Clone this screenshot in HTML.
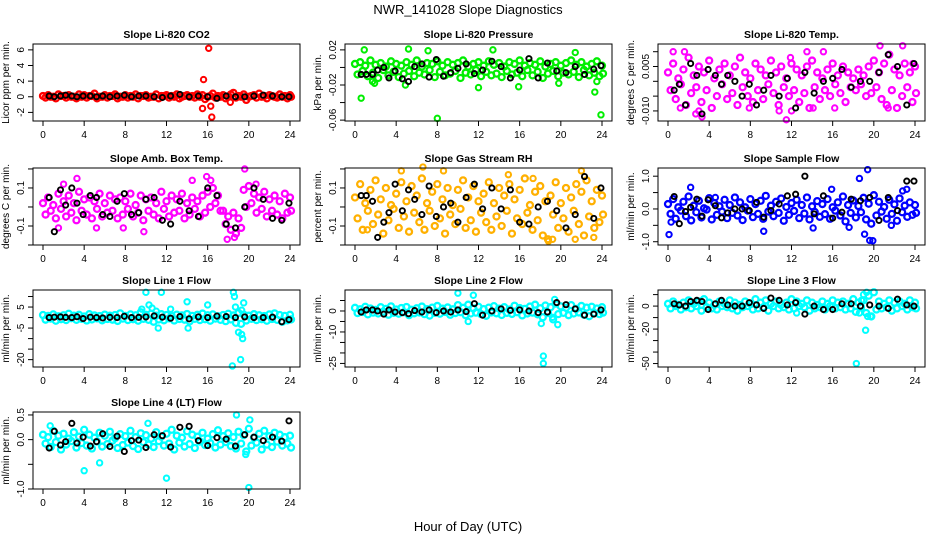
<!DOCTYPE html>
<html><head><meta charset="utf-8"><title>NWR_141028 Slope Diagnostics</title>
<style>
html,body{margin:0;padding:0;background:#fff;}
svg{display:block;font-family:"Liberation Sans",Arial,sans-serif;}
</style></head>
<body>
<svg id="chart" width="936" height="540" viewBox="0 0 936 540" xmlns="http://www.w3.org/2000/svg">
<rect x="0" y="0" width="936" height="540" fill="#fff"/>
<text x="468" y="14" text-anchor="middle" font-size="13">NWR_141028  Slope Diagnostics</text>
<text x="468" y="531" text-anchor="middle" font-size="13">Hour of Day (UTC)</text>
</svg>
<script>
const hours = [0,0.5,1,1.5,2,2.5,3,3.5,4,4.5,5,5.5,6,6.5,7,7.5,8,8.5,9,9.5,10,10.5,11,11.5,12,12.5,13,13.5,14,14.5,15,15.5,16,16.5,17,17.5,18,18.5,19,19.5,20,20.5,21,21.5,22,22.5,23,23.5,24];
const hoursB = [0.25,0.75,1.25,1.75,2.25,2.75,3.25,3.75,4.25,4.75,5.25,5.75,6.25,6.75,7.25,7.75,8.25,8.75,9.25,9.75,10.25,10.75,11.25,11.75,12.25,12.75,13.25,13.75,14.25,14.75,15.25,15.75,16.25,16.75,17.25,17.75,18.25,18.75,19.25,19.75,20.25,20.75,21.25,21.75,22.25,22.75,23.25,23.75,24.1];
const hoursBlack = [0.6,1.1,1.7,2.2,2.8,3.3,3.9,4.6,5.2,5.8,6.5,7.2,7.9,8.6,9.3,10.0,10.8,11.6,12.4,13.3,14.2,15.1,16.0,16.9,17.8,18.7,19.6,20.5,21.4,22.3,23.2,23.9];
const xTicks = [0,4,8,12,16,20,24];

const co2A = [0.1,0.2,0.0,0.3,0.1,0.2,0.0,0.3,0.2,0.1,0.4,0.0,0.2,0.1,0.3,0.0,0.2,0.1,0.3,0.1,0.2,0.0,0.3,0.1,0.2,0.1,0.3,0.0,0.2,0.1,0.3,0.2,0.0,0.4,0.1,0.2,0.0,0.5,0.1,0.3,0.0,0.2,0.4,0.1,0.2,0.0,0.3,0.1,0.2];
const co2B = [-0.1,0.0,-0.2,0.1,-0.1,0.0,-0.2,0.0,-0.1,0.1,-0.2,0.0,-0.1,0.1,-0.2,0.0,-0.1,0.0,-0.2,0.1,-0.1,0.0,-0.2,0.1,-0.1,0.0,-0.2,0.1,0.0,-0.1,0.0,-0.3,0.1,-0.1,0.0,-0.2,0.3,-0.1,0.0,-0.4,0.1,-0.1,0.0,-0.2,0.1,-0.1,0.0,-0.2,0.0];
const co2K = [0.1,0.0,0.1,0.2,0.1,0.0,0.1,0.1,0.0,0.1,0.0,0.1,0.2,0.0,0.1,0.1,0.0,-0.1,0.1,0.3,0.0,0.1,0.0,-0.2,0.1,0.0,0.0,0.1,0.2,0.1,0.0,0.0];
const co2OutH = [15.5,15.6,16.1,16.3,16.4,18.2];
const co2OutV = [-1.5,2.2,6.2,-1.2,-2.6,-0.7];

const presA = [0.004,0.006,0.002,0.008,0.003,0.005,0.001,0.007,0.004,0.002,0.006,0.003,0.008,0.001,0.005,0.004,0.007,0.002,0.006,0.003,0.005,0.008,0.001,0.004,0.006,0.002,0.007,0.003,0.005,0.001,0.006,0.004,0.008,0.002,0.005,0.003,0.007,0.001,0.004,0.006,0.002,0.005,0.008,0.003,0.006,0.001,0.004,0.007,0.002];
const presB = [-0.008,-0.004,-0.010,-0.006,-0.012,-0.003,-0.009,-0.005,-0.011,-0.007,-0.004,-0.010,-0.006,-0.008,-0.003,-0.011,-0.005,-0.009,-0.007,-0.004,-0.012,-0.006,-0.008,-0.003,-0.010,-0.005,-0.009,-0.007,-0.011,-0.004,-0.008,-0.006,-0.010,-0.003,-0.009,-0.005,-0.012,-0.007,-0.004,-0.010,-0.006,-0.008,-0.005,-0.011,-0.003,-0.009,-0.006,-0.010,-0.007];
const presK = [-0.008,-0.008,-0.008,-0.003,0.000,-0.012,-0.004,-0.013,-0.016,0.001,0.004,-0.011,0.009,-0.010,-0.006,-0.001,0.004,-0.007,-0.003,0.007,0.001,-0.012,-0.003,0.010,-0.012,0.005,-0.004,-0.006,0.001,-0.008,-0.002,0.002];
const presOutH = [0.6,8.0,23.9,23.3,12.0,15.9,1.7,1.9,19.8,5.2,13.4,0.9,7.1,21.4,4.9,23.5];
const presOutV = [-0.035,-0.058,-0.054,-0.028,-0.023,-0.022,-0.016,-0.018,-0.018,0.021,0.020,0.020,0.019,0.017,-0.020,-0.016];

const tempA = [0.003,0.006,0.001,0.004,0.008,0.002,0.005,0.003,0.007,0.001,0.004,0.006,0.002,0.005,0.008,0.003,0.001,0.006,0.004,0.002,0.007,0.003,0.005,0.001,0.006,0.004,0.002,0.005,0.007,0.003,0.001,0.004,0.006,0.002,0.005,0.003,0.001,0.004,0.002,0.005,0.007,0.003,0.006,0.009,0.004,0.002,0.006,0.003,0.005];
const tempB = [-0.003,-0.006,-0.001,-0.008,-0.004,-0.002,-0.007,-0.003,-0.009,-0.005,-0.001,-0.006,-0.004,-0.008,-0.002,-0.005,-0.007,-0.003,-0.006,-0.001,-0.004,-0.008,-0.002,-0.005,-0.003,-0.007,-0.004,-0.009,-0.002,-0.006,-0.003,-0.005,-0.001,-0.004,-0.007,-0.002,-0.003,-0.001,-0.005,-0.004,-0.002,-0.006,-0.008,-0.003,-0.009,-0.005,-0.002,-0.007,-0.004];
const tempK = [-0.003,-0.001,-0.008,0.006,0.002,-0.011,0.004,0.002,-0.001,0.002,0.000,-0.005,-0.001,-0.008,-0.003,0.002,-0.005,0.001,-0.009,0.003,-0.004,0.000,0.001,0.004,-0.002,0.000,0.000,0.003,0.009,0.005,-0.008,0.006];
const tempOutH = [0.5,1.6,1.2,3.0,3.3,7.9,10.8,11.5,12.0,13.5,14.1,15.1,16.2,20.6,21.4,22.8,23.8,11.9,2.7];
const tempOutV = [0.010,0.010,-0.009,-0.010,-0.012,-0.009,-0.010,-0.013,-0.010,0.010,-0.009,0.010,-0.009,0.012,-0.009,0.012,0.006,0.008,-0.011];

const ambA = [0.02,0.05,0.01,0.07,0.03,0.06,0.02,0.08,0.04,0.05,0.03,0.07,0.02,0.06,0.04,0.05,0.03,0.07,0.01,0.06,0.04,0.05,0.02,0.08,0.03,0.06,0.04,0.07,0.02,0.05,0.03,0.06,0.08,0.10,0.06,-0.02,-0.05,-0.03,-0.06,0.09,0.11,0.07,0.05,0.08,0.04,0.06,0.03,0.07,0.05];
const ambB = [-0.04,-0.02,-0.06,-0.01,-0.05,-0.03,-0.07,-0.02,-0.04,-0.06,-0.01,-0.05,-0.03,-0.02,-0.06,-0.04,-0.01,-0.05,-0.03,-0.07,-0.02,-0.04,-0.06,-0.01,-0.05,-0.03,-0.02,-0.06,-0.04,-0.01,-0.05,-0.03,0.00,0.02,-0.02,-0.09,-0.12,-0.14,-0.11,0.00,0.02,-0.03,-0.01,-0.05,-0.02,-0.04,-0.06,-0.03,-0.02];
const ambK = [0.05,-0.13,0.09,0.01,0.10,0.02,-0.04,0.06,0.05,-0.04,-0.05,0.03,0.07,-0.04,-0.03,0.04,0.05,-0.07,-0.09,0.03,-0.02,-0.05,0.10,0.06,-0.09,-0.11,0.00,0.10,0.04,-0.06,-0.07,0.02];
const ambOutH = [2,3.3,5.2,7.8,9.8,15.9,16.3,17.9,18.6,19.6,20.7,14.5,1.5];
const ambOutV = [0.12,0.15,-0.11,-0.11,-0.13,0.16,0.14,-0.17,-0.16,0.2,0.12,0.14,-0.11];

const rhA = [0.05,0.12,0.02,0.09,0.14,0.04,0.10,0.01,0.07,0.13,0.03,0.11,0.06,0.15,0.02,0.08,0.12,0.04,0.10,0.01,0.09,0.14,0.05,0.11,0.03,0.07,0.13,0.02,0.10,0.06,0.12,0.04,0.09,0.15,0.01,0.08,0.11,0.03,0.06,0.13,0.02,0.10,0.05,0.12,0.08,0.14,0.03,0.09,0.06];
const rhB = [-0.06,-0.12,-0.02,-0.09,-0.04,-0.14,-0.07,-0.01,-0.11,-0.05,-0.13,-0.03,-0.08,-0.12,-0.02,-0.10,-0.06,-0.14,-0.04,-0.09,-0.01,-0.11,-0.07,-0.13,-0.03,-0.08,-0.12,-0.05,-0.10,-0.02,-0.14,-0.06,-0.09,-0.03,-0.12,-0.07,-0.15,-0.17,-0.04,-0.11,-0.06,-0.13,-0.02,-0.09,-0.15,-0.05,-0.11,-0.08,-0.04];
const rhK = [0.06,0.06,0.03,-0.16,-0.08,-0.03,0.12,-0.02,0.09,0.04,-0.04,0.11,-0.05,0.00,0.02,-0.08,0.05,0.12,-0.01,0.10,-0.01,0.09,-0.08,-0.09,0.00,0.03,-0.02,-0.11,-0.04,0.16,-0.06,0.10];
const rhOutH = [4.5,6.6,8.6,14.9,17.3,18.8,19.2,21.4,22.0,23.2,1.2];
const rhOutV = [0.19,0.21,0.19,0.17,0.15,-0.18,-0.17,-0.17,0.19,-0.16,-0.12];

const sampA = [0.15,0.30,0.05,0.22,0.38,0.10,0.25,0.02,0.33,0.18,0.08,0.28,0.12,0.35,0.20,0.05,0.30,0.15,0.25,0.40,0.10,0.22,0.32,0.06,0.18,0.28,0.12,0.35,0.08,0.24,0.15,0.30,0.05,0.20,0.38,0.12,0.26,0.09,0.34,0.16,0.42,0.22,0.06,0.28,0.14,0.32,0.10,0.20,0.12];
const sampB = [-0.15,-0.30,-0.05,-0.22,-0.35,-0.10,-0.26,-0.02,-0.32,-0.18,-0.08,-0.28,-0.12,-0.20,-0.34,-0.05,-0.25,-0.15,-0.30,-0.08,-0.22,-0.12,-0.36,-0.18,-0.06,-0.28,-0.14,-0.32,-0.09,-0.24,-0.16,-0.30,-0.05,-0.20,-0.38,-0.12,-0.26,-0.10,-0.32,-0.45,-0.20,-0.08,-0.30,-0.15,-0.36,-0.10,-0.24,-0.18,-0.12];
const sampK = [0.38,-0.45,-0.08,0.05,0.30,-0.22,0.28,0.10,-0.27,-0.12,0.00,0.00,-0.05,0.20,-0.25,-0.05,0.15,0.40,0.45,1.0,-0.15,0.40,-0.28,-0.10,0.30,0.25,0.35,-0.35,0.35,-0.05,0.85,0.85];
const sampOutH = [0.1,2.2,4.6,9.3,14.1,15.9,18.6,19.1,19.4,19.6,19.9,22.8,23.2,0.3,17.6,21.7];
const sampOutV = [-0.78,0.66,0.35,-0.68,-0.58,0.6,0.93,-0.77,1.2,-0.96,-0.97,0.55,0.6,-0.4,-0.56,-0.5];

const l1A = [1.2,0.8,1.5,0.6,1.1,1.8,0.9,1.3,0.5,1.6,1.0,0.7,1.4,0.9,1.2,2.0,0.8,1.5,1.1,2.5,1.3,1.8,0.9,1.6,1.2,0.7,1.4,1.0,1.7,0.8,1.3,1.9,1.1,1.5,0.6,1.2,1.8,1.0,2.2,1.4,0.9,1.6,1.1,0.7,1.5,2.0,1.2,0.8,1.3];
const l1B = [-1.0,-0.5,-1.5,-0.8,-1.2,-0.3,-1.1,-0.6,-1.4,-0.9,-0.4,-1.3,-0.7,-1.0,-1.6,-0.5,-1.2,-0.8,-1.5,-0.6,-1.1,-2.0,-0.9,-1.3,-0.4,-1.4,-0.7,-1.0,-1.8,-0.6,-1.2,-0.8,-1.5,-0.5,-1.1,-1.7,-0.9,-2.5,-3.0,-1.4,-0.6,-1.2,-0.8,-1.5,-0.7,-1.1,-2.0,-1.3,-0.9];
const l1K = [0.0,0.2,0.3,0.1,0.0,0.4,-0.5,0.2,0.0,-0.2,0.1,0.0,0.6,0.0,0.1,0.3,0.8,0.2,-0.3,0.5,-0.6,0.3,0.0,0.7,0.5,0.0,0.3,0.0,0.0,0.2,-2.0,-1.0];
const l1OutH = [10.0,10.3,10.6,11.0,11.5,12.4,14.0,16.0,18.5,18.6,18.7,18.4,19.0,19.2,19.3,19.4,19.5,19.3,11.2,9.6,14.1];
const l1OutV = [12,6,4.5,3,12,4,7.5,6,12,10,5,-23,-7,-20,-8,-10,7,3.5,-5,4,-5];

const l2A = [1.5,0.8,2.0,1.2,0.5,1.8,1.0,2.2,0.7,1.4,1.9,0.6,1.3,2.1,0.9,1.6,2.4,1.1,1.7,0.8,2.8,1.5,3.0,1.2,2.0,0.9,1.6,2.3,1.1,1.8,0.7,2.5,1.4,1.0,2.1,3.0,1.3,2.6,1.8,3.5,2.2,1.5,2.8,1.0,2.4,1.6,2.0,1.2,1.8];
const l2B = [-1.0,-0.5,-1.6,-0.8,-1.2,-0.3,-1.8,-0.9,-1.3,-0.6,-2.0,-1.1,-0.7,-1.5,-2.2,-0.9,-1.3,-0.5,-1.8,-1.0,-0.6,-2.0,-1.2,-0.8,-1.5,-2.3,-0.7,-1.1,-1.9,-0.9,-1.4,-0.6,-2.1,-1.2,-0.8,-1.6,-3.0,-1.0,-4.0,-1.5,-0.9,-2.0,-1.2,-0.7,-1.8,-2.5,-1.0,-1.5,-0.8];
const l2K = [-0.5,0.5,0.5,0.0,-1.5,0.5,-0.5,-0.8,-1.3,0.2,-0.5,0.5,-0.8,0.0,-0.5,0.5,-0.3,3.5,-2.0,0.0,1.0,0.3,0.5,0.0,-0.8,-0.5,4.0,3.0,1.0,-2.0,-1.5,0.5];
const l2OutH = [18.3,18.3,10.0,11.5,11.0,19.4,19.7,18.1,19.2];
const l2OutV = [-25,-21.5,8.5,7.5,-5,5.5,-6.5,-6,-3];

const l3A = [2,4,1,3,5,2,4,6,3,1,4,2,5,3,1,4,2,6,3,5,2,4,1,3,6,4,2,5,3,1,4,2,5,3,4,2,6,3,5,9,12,4,2,5,3,4,2,5,3];
const l3B = [-2,0,-3,-1,-2,0,-4,-1,-2,-3,0,-1,-2,-4,-1,0,-3,-2,-1,-4,0,-2,-1,-3,-2,0,-1,-4,-2,-1,-3,0,-2,-1,-3,-2,-5,-1,-6,-9,-3,-2,-1,-4,-2,0,-3,-1,-2];
const l3K = [2,1,0,4,5,4,-3,2,5,1,0,0,3,1,-2,7,5,1,3,-7,0,-3,-3,2,2,0,1,0,-2,6,1,0];
const l3OutH = [18.3,19.2,19.0,19.3,18.6,19.4,19.7,18.8,12.5];
const l3OutV = [-50,-21,10,12,-6,-9,-9,5,-6];

const l4A = [0.10,0.05,0.18,0.08,0.12,0.02,0.15,0.06,0.20,0.10,0.04,0.14,0.08,0.16,0.03,0.11,0.07,0.18,0.05,0.13,0.09,0.02,0.15,0.06,0.12,0.20,0.08,0.04,0.17,0.10,0.06,0.14,0.02,0.11,0.19,0.07,0.13,0.05,0.16,0.09,0.22,0.04,0.12,0.18,0.07,0.14,0.10,0.05,0.08];
const l4B = [-0.08,-0.15,-0.05,-0.20,-0.10,-0.03,-0.16,-0.07,-0.12,-0.18,-0.04,-0.14,-0.09,-0.02,-0.17,-0.11,-0.06,-0.13,-0.19,-0.05,-0.10,-0.15,-0.03,-0.12,-0.08,-0.20,-0.06,-0.14,-0.09,-0.17,-0.04,-0.11,-0.07,-0.16,-0.10,-0.05,-0.13,-0.18,-0.08,-0.24,-0.12,-0.06,-0.20,-0.10,-0.15,-0.04,-0.12,-0.08,-0.16];
const l4K = [-0.17,0.17,-0.11,-0.04,0.33,-0.07,0.05,-0.13,-0.04,0.12,-0.14,0.07,-0.24,-0.02,-0.01,-0.16,0.10,0.08,-0.15,0.25,0.27,-0.02,-0.12,0.04,0.01,-0.13,0.10,0.05,-0.02,0.05,-0.03,0.38];
const l4OutH = [4.0,5.5,12.0,20.0,18.8,20.1,10.2,0.7,19.7];
const l4OutV = [-0.63,-0.47,-0.78,-0.97,0.5,0.4,0.33,0.28,-0.3];

const NS = 'http://www.w3.org/2000/svg';
const svg = document.getElementById('chart');
const colLeft = [33, 345, 658];
const rowTop = [44, 168, 290, 412];
const boxW = 267, boxH = 77;

function mk(tag, attrs, parent) {
  const e = document.createElementNS(NS, tag);
  for (const k in attrs) e.setAttribute(k, attrs[k]);
  parent.appendChild(e);
  return e;
}

const panels = [
  {key:'co2', title:'Slope Li-820 CO2', ylab:'Licor ppm per min.', col:0, row:0, ylim:[-3.1,6.75], ticks:[-2,0,2,4,6], labels:['-2','0','2','4','6'], color:'#ff0000', A:co2A, B:co2B, K:co2K, OH:co2OutH, OV:co2OutV},
  {key:'pressure', title:'Slope Li-820 Pressure', ylab:'kPa per min.', col:1, row:0, ylim:[-0.061,0.0267], ticks:[-0.06,-0.04,-0.02,0,0.02], labels:['-0.06','','-0.02','','0.02'], color:'#00ee00', A:presA, B:presB, K:presK, OH:presOutH, OV:presOutV},
  {key:'li820-temp', title:'Slope Li-820 Temp.', ylab:'degrees C per min.', col:2, row:0, ylim:[-0.0134,0.0126], ticks:[-0.01,-0.005,0,0.005,0.01], labels:['-0.010','','','0.005',''], color:'#ff00ff', A:tempA, B:tempB, K:tempK, OH:tempOutH, OV:tempOutV},
  {key:'amb-box-temp', title:'Slope Amb. Box Temp.', ylab:'degrees C per min.', col:0, row:1, ylim:[-0.2,0.205], ticks:[-0.2,-0.1,0,0.1,0.2], labels:['','-0.1','','0.1',''], color:'#ff00ff', A:ambA, B:ambB, K:ambK, OH:ambOutH, OV:ambOutV},
  {key:'gas-stream-rh', title:'Slope Gas Stream RH', ylab:'percent per min.', col:1, row:1, ylim:[-0.2,0.205], ticks:[-0.2,-0.1,0,0.1,0.2], labels:['','-0.1','','0.1',''], color:'#ffb000', A:rhA, B:rhB, K:rhK, OH:rhOutH, OV:rhOutV},
  {key:'sample-flow', title:'Slope Sample Flow', ylab:'ml/min per min.', col:2, row:1, ylim:[-1.1,1.25], ticks:[-1,-0.5,0,0.5,1], labels:['-1.0','','0.0','','1.0'], color:'#0000ff', A:sampA, B:sampB, K:sampK, OH:sampOutH, OV:sampOutV},
  {key:'line1-flow', title:'Slope Line 1 Flow', ylab:'ml/min per min.', col:0, row:2, ylim:[-23.5,13.1], ticks:[-20,-15,-10,-5,0,5,10], labels:['-20','','','-5','','5',''], color:'#00ffff', A:l1A, B:l1B, K:l1K, OH:l1OutH, OV:l1OutV},
  {key:'line2-flow', title:'Slope Line 2 Flow', ylab:'ml/min per min.', col:1, row:2, ylim:[-26.7,10], ticks:[-25,-20,-15,-10,-5,0,5], labels:['-25','','','-10','','0',''], color:'#00ffff', A:l2A, B:l2B, K:l2K, OH:l2OutH, OV:l2OutV},
  {key:'line3-flow', title:'Slope Line 3 Flow', ylab:'ml/min per min.', col:2, row:2, ylim:[-53,14], ticks:[-50,-40,-30,-20,-10,0,10], labels:['-50','','','-20','','0',''], color:'#00ffff', A:l3A, B:l3B, K:l3K, OH:l3OutH, OV:l3OutV},
  {key:'line4-flow', title:'Slope Line 4 (LT) Flow', ylab:'ml/min per min.', col:0, row:3, ylim:[-1.0,0.56], ticks:[-1,-0.5,0,0.5], labels:['-1.0','','0.0','0.5'], color:'#00ffff', A:l4A, B:l4B, K:l4K, OH:l4OutH, OV:l4OutV}
];

panels.forEach(p => {
  const L = colLeft[p.col], T = rowTop[p.row];
  const g = mk('g', {}, svg);
  
  
  const xs = h => L + 10 + h * 247 / 24;
  const ys = v => T + boxH - (v - p.ylim[0]) / (p.ylim[1] - p.ylim[0]) * boxH;

  const title = mk('text', {x: L + boxW / 2, y: T - 6, 'text-anchor': 'middle', 'font-size': 10.5, 'font-weight': 'bold'}, g);
  
  
  title.textContent = p.title;

  const pts = mk('g', {fill: 'none'}, g);
  
  
  const drawSet = (H, V, color, r, sw) => {
    for (let i = 0; i < V.length; i++) {
      const y = ys(V[i]);
      if (y < T - 1 || y > T + boxH + 1) continue;
      const c = mk('circle', {cx: xs(H[i]), cy: y, r: r, stroke: color, 'stroke-width': sw}, pts);
      
      
    }
  };
  drawSet(hours, p.A, p.color, 3, 2.3);
  drawSet(hoursB, p.B, p.color, 3, 2.3);
  drawSet(p.OH, p.OV, p.color, 2.7, 2);
  drawSet(hoursBlack, p.K, '#000', 2.6, 1.9);

  const box = mk('rect', {x: L, y: T, width: boxW, height: boxH, fill: 'none', stroke: '#000', 'stroke-width': 1}, g);
  
  

  const xa = mk('g', {stroke: '#000', 'stroke-width': 1}, g);
  
  
  xTicks.forEach(t => {
    mk('line', {x1: xs(t), x2: xs(t), y1: T + boxH, y2: T + boxH + 5}, xa);
    const tx = mk('text', {x: xs(t), y: T + boxH + 17, 'text-anchor': 'middle', 'font-size': 10, stroke: 'none'}, xa);
    
    
    tx.textContent = t;
  });

  const ya = mk('g', {stroke: '#000', 'stroke-width': 1}, g);
  
  
  p.ticks.forEach((t, i) => {
    const y = ys(t);
    mk('line', {x1: L - 5, x2: L, y1: y, y2: y}, ya);
    if (p.labels[i]) {
      const tx = mk('text', {x: L - 9, y: y, 'text-anchor': 'middle', 'font-size': 10, stroke: 'none', transform: 'rotate(-90 ' + (L - 9) + ' ' + y + ')'}, ya);
      
      
      tx.textContent = p.labels[i];
    }
  });
  const yl = mk('text', {x: L - 24, y: T + boxH / 2, 'text-anchor': 'middle', 'font-size': 10, transform: 'rotate(-90 ' + (L - 24) + ' ' + (T + boxH / 2) + ')'}, g);
  
  
  yl.textContent = p.ylab;
});
</script>
</body></html>
